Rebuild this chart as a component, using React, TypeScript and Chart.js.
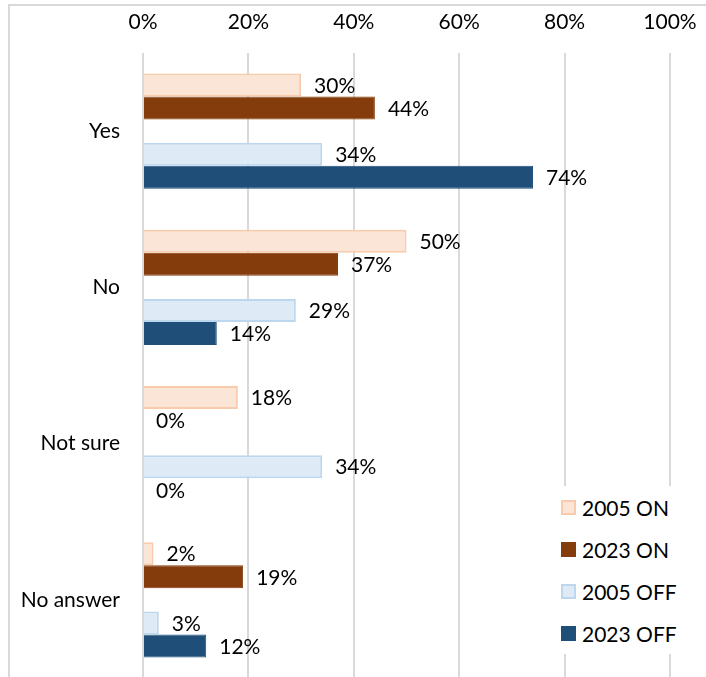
import React, { useEffect, useRef } from "react";
import { Chart, registerables } from "chart.js";

Chart.register(...registerables);

const categories = ["Yes", "No", "Not sure", "No answer"];
const seriesNames = ["2005 ON", "2023 ON", "2005 OFF", "2023 OFF"];
const on2005 = [30, 50, 18, 2];
const on2023 = [44, 37, 0, 19];
const off2005 = [34, 29, 34, 3];
const off2023 = [74, 14, 0, 12];
const xTickValues = [0, 20, 40, 60, 80, 100];

const FONT = "Lato, 'Open Sans', sans-serif";
const FONT_SIZE = 21;
const CANVAS_H = 678;

const fills = ["#fbe5d6", "#843c0c", "#deebf7", "#1f4e79"];
const borders = ["#f8cbad", "#843c0c", "#bdd7ee", "#1f4e79"];

const valueLabels = {
  id: "valueLabels",
  afterDatasetsDraw(chart: any) {
    const ctx = chart.ctx;
    ctx.save();
    ctx.font = `${FONT_SIZE}px ${FONT}`;
    ctx.fillStyle = "#000000";
    ctx.textAlign = "left";
    ctx.textBaseline = "middle";
    chart.data.datasets.forEach((ds: any, i: number) => {
      if (ds.spacer) return;
      const meta = chart.getDatasetMeta(i);
      meta.data.forEach((bar: any, j: number) => {
        const v = ds.data[j];
        if (v === null || v === undefined) return;
        ctx.fillText(`${v}%`, bar.x + 13, bar.y + 1);
      });
    });
    ctx.restore();
  },
};

export default function App() {
  const canvasRef = useRef<HTMLCanvasElement | null>(null);

  useEffect(() => {
    const canvas = canvasRef.current;
    if (!canvas) return;
    const seriesData = [on2005, on2023, off2005, off2023];
    const datasets: any[] = [];
    seriesData.forEach((d, i) => {
      if (i === 2) {
        datasets.push({
          label: "",
          spacer: true,
          data: categories.map(() => null),
          backgroundColor: "transparent",
        });
      }
      datasets.push({
        label: seriesNames[i],
        data: d,
        backgroundColor: fills[i],
        borderColor: borders[i],
        borderWidth: i % 2 === 0 ? 2 : 1,
      });
    });

    const chart = new Chart(canvas, {
      type: "bar",
      data: { labels: categories, datasets },
      plugins: [valueLabels],
      options: {
        indexAxis: "y",
        responsive: false,
        animation: false,
        datasets: {
          bar: { barPercentage: 1, categoryPercentage: 0.739 },
        } as any,
        layout: { padding: { left: 0, right: 36, top: 0, bottom: 0 } },
        plugins: {
          legend: { display: false },
          tooltip: { enabled: false },
        },
        scales: {
          x: {
            position: "top",
            min: 0,
            max: 100,
            afterFit(scale: any) {
              scale.height = 53;
              scale.paddingLeft = 0;
              scale.paddingRight = 0;
            },
            afterBuildTicks(scale: any) {
              scale.ticks = xTickValues.map((v) => ({ value: v }));
            },
            ticks: {
              callback: (v: any) => `${v}%`,
              color: "#000000",
              font: { family: FONT, size: FONT_SIZE },
              padding: 18,
              maxRotation: 0,
            },
            grid: {
              color: "#d9d9d9",
              lineWidth: 2,
              drawTicks: false,
            },
            border: { display: false },
          },
          y: {
            afterFit(scale: any) {
              scale.width = 143;
              scale.paddingTop = 0;
              scale.paddingBottom = 0;
            },
            ticks: {
              color: "#000000",
              font: { family: FONT, size: FONT_SIZE },
              padding: 15,
            },
            grid: { display: false },
            border: { display: false },
          },
        },
      } as any,
    });
    return () => chart.destroy();
  }, []);

  const legendRow = (i: number) => (
    <div
      key={i}
      style={{
        display: "flex",
        alignItems: "center",
        height: 42,
      }}
    >
      <span
        style={{
          display: "inline-block",
          width: 15,
          height: 15,
          boxSizing: "border-box",
          background: fills[i],
          border: `2px solid ${borders[i]}`,
          marginRight: 6,
        }}
      />
      <span style={{ fontFamily: FONT, fontSize: FONT_SIZE, color: "#000" }}>
        {seriesNames[i]}
      </span>
    </div>
  );

  return (
    <div
      style={{
        position: "fixed",
        left: 0,
        top: 0,
        width: 706,
        height: 677,
        overflow: "hidden",
        background: "#ffffff",
      }}
    >
      <div
        style={{
          position: "absolute",
          left: 8,
          top: 4,
          width: 698,
          height: 673,
          borderTop: "2px solid #d9d9d9",
          borderLeft: "2px solid #d9d9d9",
          boxSizing: "border-box",
        }}
      />
      <canvas
        ref={canvasRef}
        width={706}
        height={CANVAS_H}
        style={{ position: "absolute", left: 0, top: 0, width: 706, height: CANVAS_H }}
      />
      <div
        style={{
          position: "absolute",
          left: 555,
          top: 486,
          width: 130,
          padding: "0 0 0 6px",
          boxSizing: "border-box",
          background: "#ffffff",
          height: 168,
        }}
      >
        {seriesNames.map((_, i) => legendRow(i))}
      </div>
    </div>
  );
}
